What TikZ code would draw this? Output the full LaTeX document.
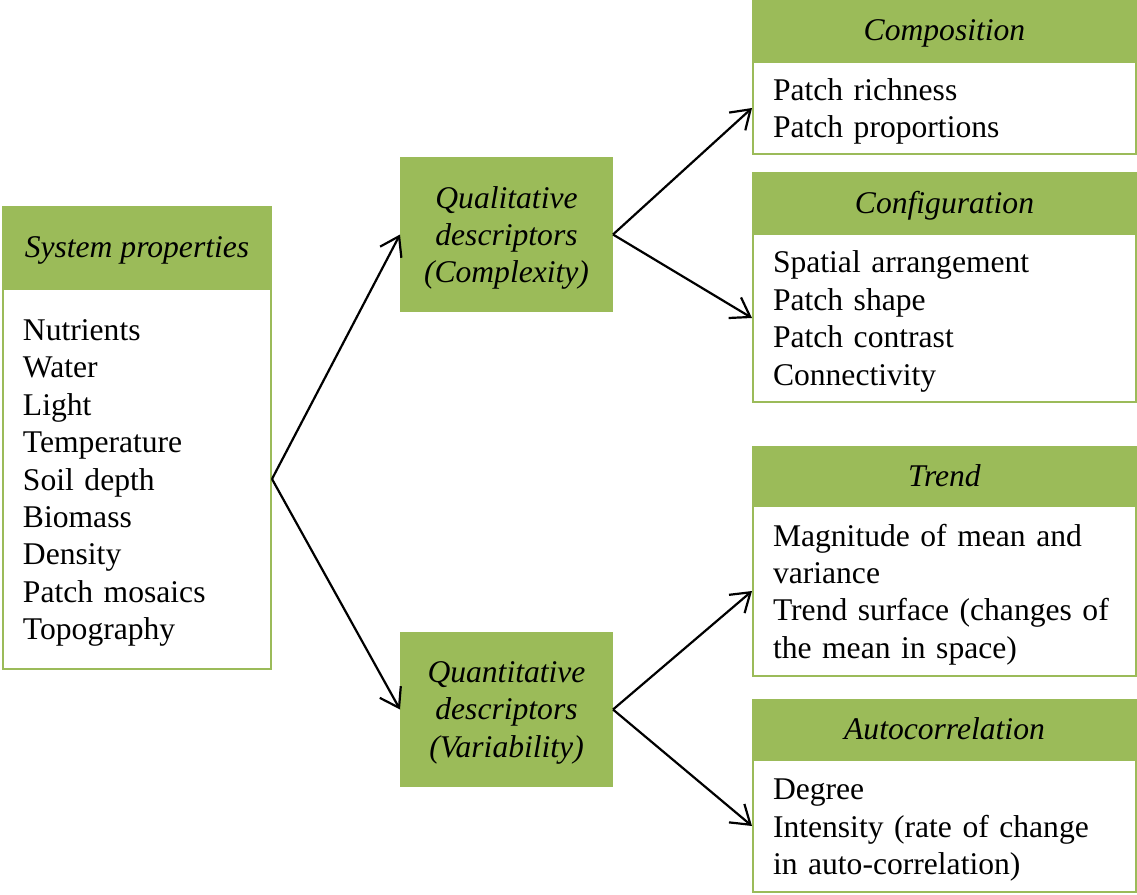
\documentclass[tikz,border=0pt]{standalone}
\usepackage{fontspec}
\setmainfont{Liberation Serif}
\usepackage{tikz}
\usetikzlibrary{positioning,arrows.meta}
\definecolor{boxgreen}{HTML}{9BBB59}
\newcommand{\boxfont}{\fontsize{15.8}{18.7}\selectfont}

\tikzset{
	head/.style={fill=boxgreen,draw=boxgreen,line width=1pt,minimum width=191.5pt,inner sep=0pt,
		font=\boxfont\itshape,align=center,text depth=0pt},
	body/.style={draw=boxgreen,line width=1pt,fill=white,minimum width=191.5pt,text width=171.5pt,
		inner xsep=10pt,inner ysep=0pt,font=\boxfont,align=left,
		execute at begin node={\rule{0pt}{14.5pt}}},
	desc/.style={fill=boxgreen,draw=boxgreen,line width=1pt,minimum width=105.5pt,minimum height=76.5pt,
		inner sep=0pt,font=\boxfont\itshape,align=center,text depth=0pt},
	link/.style={line width=1.1pt,-{Straight Barb[length=9pt,width=12pt]}}
}

\begin{document}
\begin{tikzpicture}[x=0.5pt,y=-0.5pt]
		\useasboundingbox (0,0) rectangle (1137,895);

		% left column
		\node[head,anchor=north west,minimum width=134pt,minimum height=40pt] (syshead) at (2,206) {System properties};
		\node[body,below=0pt of syshead,minimum width=134pt,text width=114pt,minimum height=190pt] (sysbody)
			{Nutrients\\Water\\Light\\Temperature\\Soil depth\\Biomass\\Density\\Patch mosaics\\Topography};

		% middle column
		\node[desc,anchor=north west] (qual) at (400,157) {Qualitative\\descriptors\\(Complexity)};
		\node[desc,anchor=north west] (quant) at (400,632) {Quantitative\\descriptors\\(Variability)};

		% right column
		\node[head,anchor=north west,minimum height=29.5pt] (comphead) at (752,0) {Composition};
		\node[body,below=0pt of comphead,minimum height=46pt] (compbody) {Patch richness\\Patch proportions};

		\node[head,anchor=north west,minimum height=29.5pt] (confhead) at (752,172) {Configuration};
		\node[body,below=0pt of confhead,minimum height=84pt] (confbody)
			{Spatial arrangement\\Patch shape\\Patch contrast\\Connectivity};

		\node[head,anchor=north west,minimum height=28.5pt] (trendhead) at (752,446) {Trend};
		\node[body,below=0pt of trendhead,minimum height=85pt] (trendbody)
			{Magnitude of mean and\\variance\\Trend surface (changes of\\the mean in space)};

		\node[head,anchor=north west,minimum height=29pt] (autohead) at (752,699) {Autocorrelation};
		\node[body,below=0pt of autohead,minimum height=66pt] (autobody)
			{Degree\\Intensity (rate of change\\in auto-correlation)};

		% arrows
		\draw[link] (sysbody.east) -- (qual.west);
		\draw[link] (sysbody.east) -- (quant.west);
		\draw[link] (qual.east) -- (compbody.west);
		\draw[link] (qual.east) -- (confbody.west);
		\draw[link] (quant.east) -- (trendbody.west);
		\draw[link] (quant.east) -- (autobody.west);

	\end{tikzpicture}
\end{document}
